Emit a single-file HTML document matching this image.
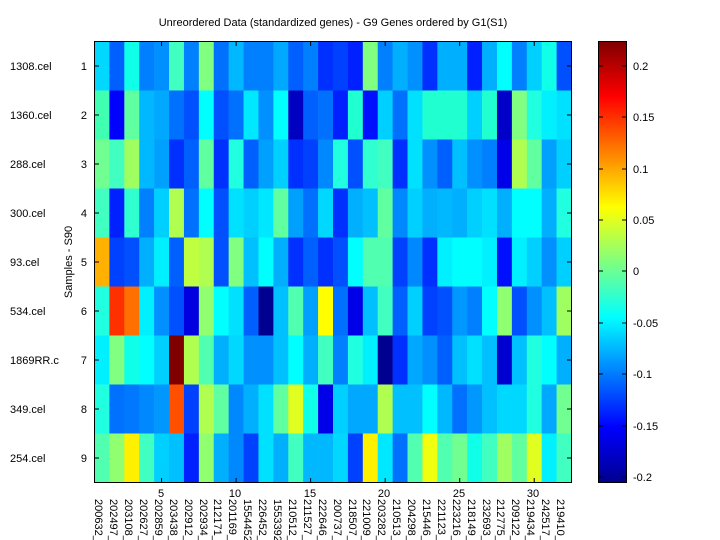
<!DOCTYPE html>
<html><head><meta charset="utf-8"><style>
html,body{margin:0;padding:0;background:#fff;}
svg{display:block;font-family:"Liberation Sans",Arial,sans-serif;}
</style></head><body>
<svg id="s" width="720" height="540" xmlns="http://www.w3.org/2000/svg">
<defs><linearGradient id="jet" x1="0" y1="1" x2="0" y2="0">
<stop offset="0" stop-color="#00008f"/><stop offset="0.125" stop-color="#0000ff"/>
<stop offset="0.375" stop-color="#00ffff"/><stop offset="0.625" stop-color="#ffff00"/>
<stop offset="0.875" stop-color="#ff0000"/><stop offset="1" stop-color="#800000"/>
</linearGradient></defs>
<rect width="720" height="540" fill="#fff"/>
<g id="cells"></g>
<rect x="94.5" y="41.5" width="477" height="441" fill="none" stroke="#000" stroke-width="1"/>
<g id="ticks" stroke="#000" stroke-width="1"></g>
<text x="333" y="26" font-size="11" text-anchor="middle">Unreordered Data (standardized genes) - G9 Genes ordered by G1(S1)</text>
<g font-size="11" text-anchor="end">
<text x="87" y="70">1</text><text x="87" y="119">2</text><text x="87" y="168">3</text><text x="87" y="217">4</text><text x="87" y="266">5</text><text x="87" y="315">6</text><text x="87" y="364">7</text><text x="87" y="413">8</text><text x="87" y="462">9</text>
</g>
<g font-size="11">
<text x="10" y="70">1308.cel</text><text x="10" y="119">1360.cel</text><text x="10" y="168">288.cel</text><text x="10" y="217">300.cel</text><text x="10" y="266">93.cel</text><text x="10" y="315">534.cel</text><text x="10" y="364">1869RR.c</text><text x="10" y="413">349.cel</text><text x="10" y="462">254.cel</text>
</g>
<text transform="translate(72,262) rotate(-90)" font-size="11" text-anchor="middle">Samples - S90</text>
<g font-size="11" text-anchor="middle">
<text x="161" y="497">5</text><text x="235" y="497">10</text><text x="310" y="497">15</text><text x="384" y="497">20</text><text x="459" y="497">25</text><text x="533" y="497">30</text>
</g>
<g id="xl" font-size="11"></g>
<rect x="598.5" y="41.5" width="28" height="441" fill="url(#jet)" stroke="#000"/>
<g font-size="11">
<text x="633" y="70">0.2</text><text x="633" y="121">0.15</text><text x="633" y="173">0.1</text><text x="633" y="224">0.05</text><text x="633" y="275">0</text><text x="633" y="327">-0.05</text><text x="633" y="378">-0.1</text><text x="633" y="430">-0.15</text><text x="633" y="481">-0.2</text>
</g>
<g stroke="#000"><line x1="622" y1="66" x2="626" y2="66"/><line x1="622" y1="117" x2="626" y2="117"/><line x1="622" y1="169" x2="626" y2="169"/><line x1="622" y1="220" x2="626" y2="220"/><line x1="622" y1="271" x2="626" y2="271"/><line x1="622" y1="323" x2="626" y2="323"/><line x1="622" y1="374" x2="626" y2="374"/><line x1="622" y1="426" x2="626" y2="426"/><line x1="622" y1="477" x2="626" y2="477"/>
<line x1="599" y1="66" x2="603" y2="66"/><line x1="599" y1="117" x2="603" y2="117"/><line x1="599" y1="169" x2="603" y2="169"/><line x1="599" y1="220" x2="603" y2="220"/><line x1="599" y1="271" x2="603" y2="271"/><line x1="599" y1="323" x2="603" y2="323"/><line x1="599" y1="374" x2="603" y2="374"/><line x1="599" y1="426" x2="603" y2="426"/><line x1="599" y1="477" x2="603" y2="477"/></g>
<g font-size="11" id="genes">
<text transform="translate(95,499) rotate(90)">200632_</text>
<text transform="translate(110,499) rotate(90)">202497_</text>
<text transform="translate(125,499) rotate(90)">203108_</text>
<text transform="translate(140,499) rotate(90)">202627_</text>
<text transform="translate(155,499) rotate(90)">202859_</text>
<text transform="translate(170,499) rotate(90)">203438_</text>
<text transform="translate(185,499) rotate(90)">202912_</text>
<text transform="translate(200,499) rotate(90)">202934_</text>
<text transform="translate(214,499) rotate(90)">212171_</text>
<text transform="translate(229,499) rotate(90)">201169_</text>
<text transform="translate(244,499) rotate(90)">1554452</text>
<text transform="translate(259,499) rotate(90)">226452_</text>
<text transform="translate(274,499) rotate(90)">1553392</text>
<text transform="translate(289,499) rotate(90)">210512_</text>
<text transform="translate(304,499) rotate(90)">211527_</text>
<text transform="translate(319,499) rotate(90)">222646_</text>
<text transform="translate(334,499) rotate(90)">200737_</text>
<text transform="translate(349,499) rotate(90)">218507_</text>
<text transform="translate(363,499) rotate(90)">221009_</text>
<text transform="translate(378,499) rotate(90)">203282_</text>
<text transform="translate(393,499) rotate(90)">210513_</text>
<text transform="translate(408,499) rotate(90)">204298_</text>
<text transform="translate(423,499) rotate(90)">215446_</text>
<text transform="translate(438,499) rotate(90)">221123_</text>
<text transform="translate(453,499) rotate(90)">223216_</text>
<text transform="translate(468,499) rotate(90)">218149_</text>
<text transform="translate(483,499) rotate(90)">232693_</text>
<text transform="translate(497,499) rotate(90)">212775_</text>
<text transform="translate(512,499) rotate(90)">209122_</text>
<text transform="translate(527,499) rotate(90)">219434_</text>
<text transform="translate(542,499) rotate(90)">242517_</text>
<text transform="translate(557,499) rotate(90)">219410_</text>
</g>
</svg>
<script>
var D=[
"00d8ff 0060ff 10ffe8 0080ff 0090ff 40ffc0 0080ff 80ff80 0070ff 00b8ff 0080ff 0080ff 00a8ff 0060ff 0080ff 0030ff 0040ff 0020ff 80ff80 0080ff 00b0ff 0090ff 0030ff 00b0ff 00b0ff 0020ff 00b0ff 00ffff 0080ff 00d0ff 10ffe8 0050ff",
"40ffb0 0000ff 60ffa0 00b8ff 00a8ff 0070ff 0050ff 00ffff 0050ff 0070ff 00e8ff 0090ff 00ffff 0000c0 0060ff 0070ff 0020ff 20ffd0 0010ff 00d0ff 0070ff 00e0ff 20ffd0 20ffd0 20ffd0 00d0ff 20ffd0 0000c8 80ff80 20ffe0 00f0ff 00e0ff",
"70ff90 40ffc0 a0ff60 00b8ff 00a0ff 0030ff 0060ff 60ffa0 0030ff 20ffe0 0060ff 00a0ff 00d0ff 0030ff 0040ff 0088ff 20ffe0 0050ff 30ffd0 40ffc0 0030ff 00e0ff 0090ff 0060ff 00c0ff 0090ff 0080ff 0000e8 b0ff50 60ffa0 00a0ff 00d0ff",
"40ffc0 0020ff 30ffd0 0080ff 00d0ff b0ff50 0070ff 00ffff 0050ff 00e0ff 00d0ff 00e8ff 60ffa0 00a0ff 0070ff 00d8ff 0030ff 00b0ff 00c0ff 60ffa0 0088ff 00d0ff 00b0ff 00b8ff 00b0ff 00d0ff 00e0ff 00b0ff 00ffff 00ffff 00b0ff 20ffe0",
"ffb000 0040ff 0050ff 00b0ff 00f0ff 0060ff c0ff40 b0ff50 0050ff 80ff80 00c0ff 00ffff 00b0ff 0030ff 0060ff 0030ff 0050ff 00ffff 50ffb0 50ffb0 0040ff 0088ff 0030ff 00f0ff 00ffff 00ffff 00f0ff 0010ff 00f0ff 00d0ff 0090ff 00d0ff",
"20ffe0 ff3000 ff7000 00f0ff 0090ff 0050ff 0000e0 90ff70 00ffff 00e0ff 0060ff 000090 00c0ff 50ffb0 00a0ff ffff00 0070ff 0000e8 00c0ff 40ffc0 0060ff 00d0ff 0040ff 0050ff 0098ff 0080ff 00ffff 90ff70 0050ff 0090ff 00c0ff a0ff60",
"00f0ff 80ff80 10ffe8 00ffff 00d0ff 800000 b0ff50 50ffb0 00b0ff 00d8ff 0090ff 0090ff 00c0ff 00ffff 00b0ff 40ffc0 0080ff 20ffe0 00f0ff 000090 0030ff 00a8ff 0090ff 0060ff 00c0ff 00e0ff 00c0ff 0000d0 00c0ff 20ffe0 00ffff 00b0ff",
"20ffe0 0070ff 0078ff 0088ff 0098ff ff5000 0040ff b0ff50 60ffa0 0088ff 00b0ff 00e0ff 60ffa0 e0ff20 10ffe8 0000e8 00d0ff 00a8ff 00a8ff b0ff50 00c0ff 00c0ff 00ffff 00b8ff 0070ff 0098ff 00c0ff 00d8ff 00d8ff 20ffe0 00a8ff 70ff90",
"50ffb0 90ff70 fff000 40ffc0 00d0ff 00c0ff 0020ff 90ff70 00b0ff 0088ff 0040ff 00e0ff 00b0ff 40ffc0 00b8ff 00b8ff 00d8ff 0040ff fff000 00e8ff 0070ff 50ffb0 f0ff10 50ffb0 70ff90 10ffe8 40ffc0 a0ff60 60ffa0 e0ff20 00f0ff 40ffc0"];
var NS="http://www.w3.org/2000/svg",g=document.getElementById("cells"),cw=477/32,rh=49;
D.forEach(function(r,i){r.split(" ").forEach(function(c,j){var e=document.createElementNS(NS,"rect");
var x0=94.5+j*cw,x1=94.5+(j+1)*cw;e.setAttribute("x",x0);e.setAttribute("y",41.5+i*rh);e.setAttribute("width",x1-x0+0.3);e.setAttribute("height",rh+0.3);e.setAttribute("fill","#"+c);g.appendChild(e);});});
var t=document.getElementById("ticks");
function L(a,b,c,d){var e=document.createElementNS(NS,"line");e.setAttribute("x1",a);e.setAttribute("y1",b);e.setAttribute("x2",c);e.setAttribute("y2",d);t.appendChild(e);}
for(var i=0;i<9;i++){var y=41.5+rh*(i+0.5);L(94.5,y,99,y);L(567,y,571.5,y);}
for(var k=5;k<=30;k+=5){var x=94.5+cw*(k-0.5);L(x,41.5,x,46);L(x,478,x,482.5);}
</script>
</body></html>
